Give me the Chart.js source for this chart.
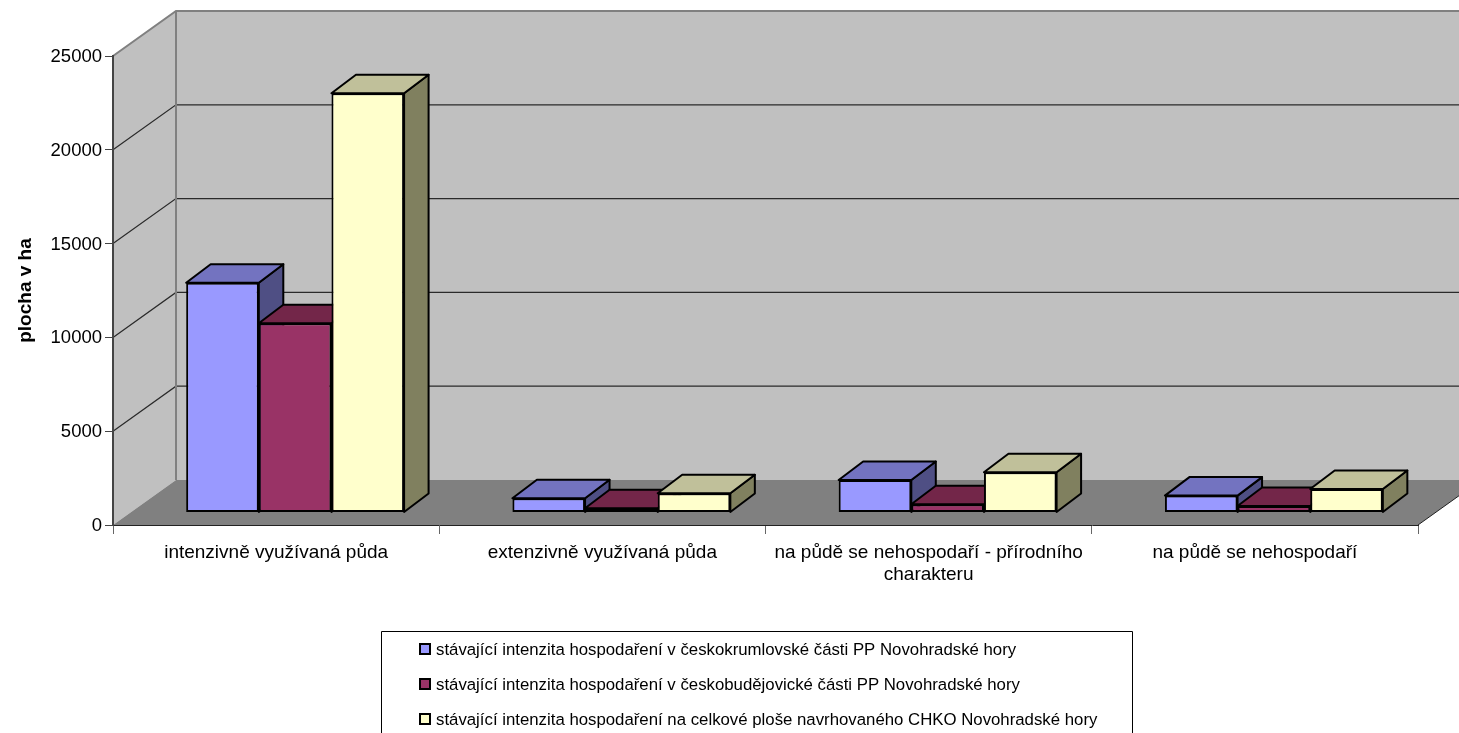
<!DOCTYPE html>
<html lang="cs">
<head>
    <meta charset="UTF-8">
    <title>plocha v ha</title>
    <script src="https://cdn.jsdelivr.net/npm/chart.js"></script>
    <style>
        html, body { margin: 0; padding: 0; background: #fff; overflow: hidden; }
        canvas { display: block; }
    </style>
</head>
<body>
    <canvas id="myChart" width="1459" height="733"></canvas>

    <script>
        // data
        const categories = [
            'intenzivně využívaná půda',
            'extenzivně využívaná půda',
            ['na půdě se nehospodaří - přírodního', 'charakteru'],
            'na půdě se nehospodaří'
        ];
        const krumlovValues = [12250, 760, 1733, 900];
        const budejoviceValues = [10085, 224, 437, 346];
        const chkoValues = [22345, 1023, 2145, 1253];
        const seriesNames = [
            'stávající intenzita hospodaření v českokrumlovské části PP Novohradské hory',
            'stávající intenzita hospodaření v českobudějovické části PP Novohradské hory',
            'stávající intenzita hospodaření na celkové ploše navrhovaného CHKO Novohradské hory'
        ];
        const yTicks = [0, 5000, 10000, 15000, 20000, 25000];

        // barvy: predni, horni a bocni stena
        const frontColors = ['#9999FF', '#993366', '#FFFFCC'];
        const topColors = ['#7373C0', '#732649', '#C0C09A'];
        const sideColors = ['#4F4F84', '#4F1A33', '#80805F'];

        const FONT = '"Liberation Sans", Arial, sans-serif';
        const wallDepth = { x: 63, y: -45 };   // zadni stena proti prednimu okraji
        const barShift = { x: 19, y: -12.5 };  // sloupce stoji uprostred podlahy
        const barDepth = { x: 24.5, y: -18.5 };

        function poly(ctx, pts, fill, stroke, lw) {
            ctx.beginPath();
            pts.forEach((p, i) => i ? ctx.lineTo(p[0], p[1]) : ctx.moveTo(p[0], p[1]));
            ctx.closePath();
            if (fill) { ctx.fillStyle = fill; ctx.fill(); }
            if (stroke) { ctx.strokeStyle = stroke; ctx.lineWidth = lw; ctx.lineJoin = 'round'; ctx.stroke(); }
        }

        // steny a podlaha
        const wallsPlugin = {
            id: 'walls',
            beforeDraw(chart) {
                const { ctx, scales: { x, y } } = chart;
                const l = x.left, r = x.right, t = y.getPixelForValue(25000), b = y.getPixelForValue(0);
                const dx = wallDepth.x, dy = wallDepth.y;
                ctx.save();
                poly(ctx, [[l + dx, t + dy], [r + dx, t + dy], [r + dx, b + dy], [l + dx, b + dy]], '#C0C0C0');
                poly(ctx, [[l, t], [l + dx, t + dy], [l + dx, b + dy], [l, b]], '#C0C0C0');
                yTicks.forEach((v) => {
                    if (v === 0 || v === 25000) return;
                    const py = y.getPixelForValue(v);
                    ctx.beginPath();
                    ctx.moveTo(l, py);
                    ctx.lineTo(l + dx, py + dy);
                    ctx.lineTo(r + dx, py + dy);
                    ctx.strokeStyle = '#2a2a2a';
                    ctx.lineWidth = 1.2;
                    ctx.stroke();
                });
                // sede hrany
                ctx.beginPath();
                ctx.moveTo(l, t);
                ctx.lineTo(l + dx, t + dy);
                ctx.lineTo(r + dx, t + dy);
                ctx.moveTo(l + dx, t + dy);
                ctx.lineTo(l + dx, b + dy);
                ctx.strokeStyle = '#808080';
                ctx.lineWidth = 2;
                ctx.stroke();
                // podlaha
                poly(ctx, [[l, b], [l + dx, b + dy], [r + dx, b + dy], [r, b]], '#808080');
                ctx.beginPath();
                ctx.moveTo(r, b);
                ctx.lineTo(r + dx, b + dy);
                ctx.strokeStyle = '#222';
                ctx.lineWidth = 1;
                ctx.stroke();
                ctx.restore();
            }
        };

        // 3D sloupce: serie se kresli zleva doprava, aby prava prekryla bok leve
        const boxPlugin = {
            id: 'box3d',
            beforeDatasetsDraw(chart) {
                const ctx = chart.ctx;
                ctx.save();
                ctx.translate(barShift.x, barShift.y);
                chart.data.datasets.forEach((ds, idx) => {
                    const meta = chart.getDatasetMeta(idx);
                    meta.data.forEach((bar) => {
                        const left = bar.x - bar.width / 2, right = bar.x + bar.width / 2;
                        const top = bar.y, base = bar.base;
                        const dx = barDepth.x, dy = barDepth.y;
                        poly(ctx, [[right, top], [right + dx, top + dy], [right + dx, base + dy], [right, base]], sideColors[idx], '#000', 2);
                        poly(ctx, [[left, top], [left + dx, top + dy], [right + dx, top + dy], [right, top]], topColors[idx], '#000', 2);
                    });
                    meta.controller.draw();
                });
                ctx.restore();
            },
            beforeDatasetDraw() {
                return false; // uz nakresleno vyse
            }
        };

        // legenda je oriznuta spodnim okrajem, proto vlastni kresleni
        const legendPlugin = {
            id: 'boxLegend',
            afterDraw(chart) {
                const ctx = chart.ctx;
                const rows = [649, 684, 719];
                ctx.save();
                ctx.strokeStyle = '#000';
                ctx.lineWidth = 1;
                ctx.beginPath();
                ctx.moveTo(381.5, 740);
                ctx.lineTo(381.5, 631.5);
                ctx.lineTo(1132.5, 631.5);
                ctx.lineTo(1132.5, 740);
                ctx.stroke();
                ctx.font = '16.8px ' + FONT;
                ctx.textBaseline = 'middle';
                ctx.textAlign = 'left';
                chart.data.datasets.forEach((ds, i) => {
                    ctx.fillStyle = ds.backgroundColor;
                    ctx.fillRect(420, rows[i] - 5, 10, 10);
                    ctx.lineWidth = 2;
                    ctx.strokeRect(420, rows[i] - 5, 10, 10);
                    ctx.fillStyle = '#000';
                    ctx.fillText(ds.label, 436, rows[i] + 1);
                });
                ctx.restore();
            }
        };

        const mkDataset = (i, values) => ({
            label: seriesNames[i],
            data: values,
            backgroundColor: frontColors[i],
            borderColor: '#000',
            borderWidth: 2,
            borderSkipped: false,
            clip: false,
            barPercentage: 1,
            categoryPercentage: 0.668
        });

        new Chart(document.getElementById('myChart').getContext('2d'), {
            type: 'bar',
            data: {
                labels: categories,
                datasets: [
                    mkDataset(0, krumlovValues),
                    mkDataset(1, budejoviceValues),
                    mkDataset(2, chkoValues)
                ]
            },
            plugins: [wallsPlugin, boxPlugin, legendPlugin],
            options: {
                responsive: false,
                animation: false,
                layout: { padding: { top: 56, right: 41, left: 0, bottom: 0 } },
                plugins: { legend: { display: false }, tooltip: { enabled: false } },
                scales: {
                    x: {
                        afterFit(s) { s.height = 208; },
                        grid: { offset: true, drawOnChartArea: false, drawTicks: true, tickLength: 9, color: '#666' },
                        border: { color: '#222', width: 1 },
                        ticks: {
                            color: '#000', autoSkip: false, maxRotation: 0, minRotation: 0, padding: 7,
                            font: { family: FONT, size: 19, lineHeight: 1.2 }
                        }
                    },
                    y: {
                        min: 0,
                        max: 25000,
                        afterFit(s) { s.width = 113; },
                        afterBuildTicks(s) { s.ticks = yTicks.map((v) => ({ value: v })); },
                        title: {
                            display: true, text: 'plocha v ha', color: '#000',
                            font: { family: FONT, size: 19, weight: 'bold' },
                            padding: { top: 14, bottom: 0 }
                        },
                        grid: { drawOnChartArea: false, drawTicks: true, tickLength: 8, color: '#444' },
                        border: { color: '#444', width: 2 },
                        ticks: {
                            color: '#000', padding: 3, labelOffset: 1,
                            font: { family: FONT, size: 18.5 },
                            callback: (v) => String(v)
                        }
                    }
                }
            }
        });
    </script>
</body>
</html>
